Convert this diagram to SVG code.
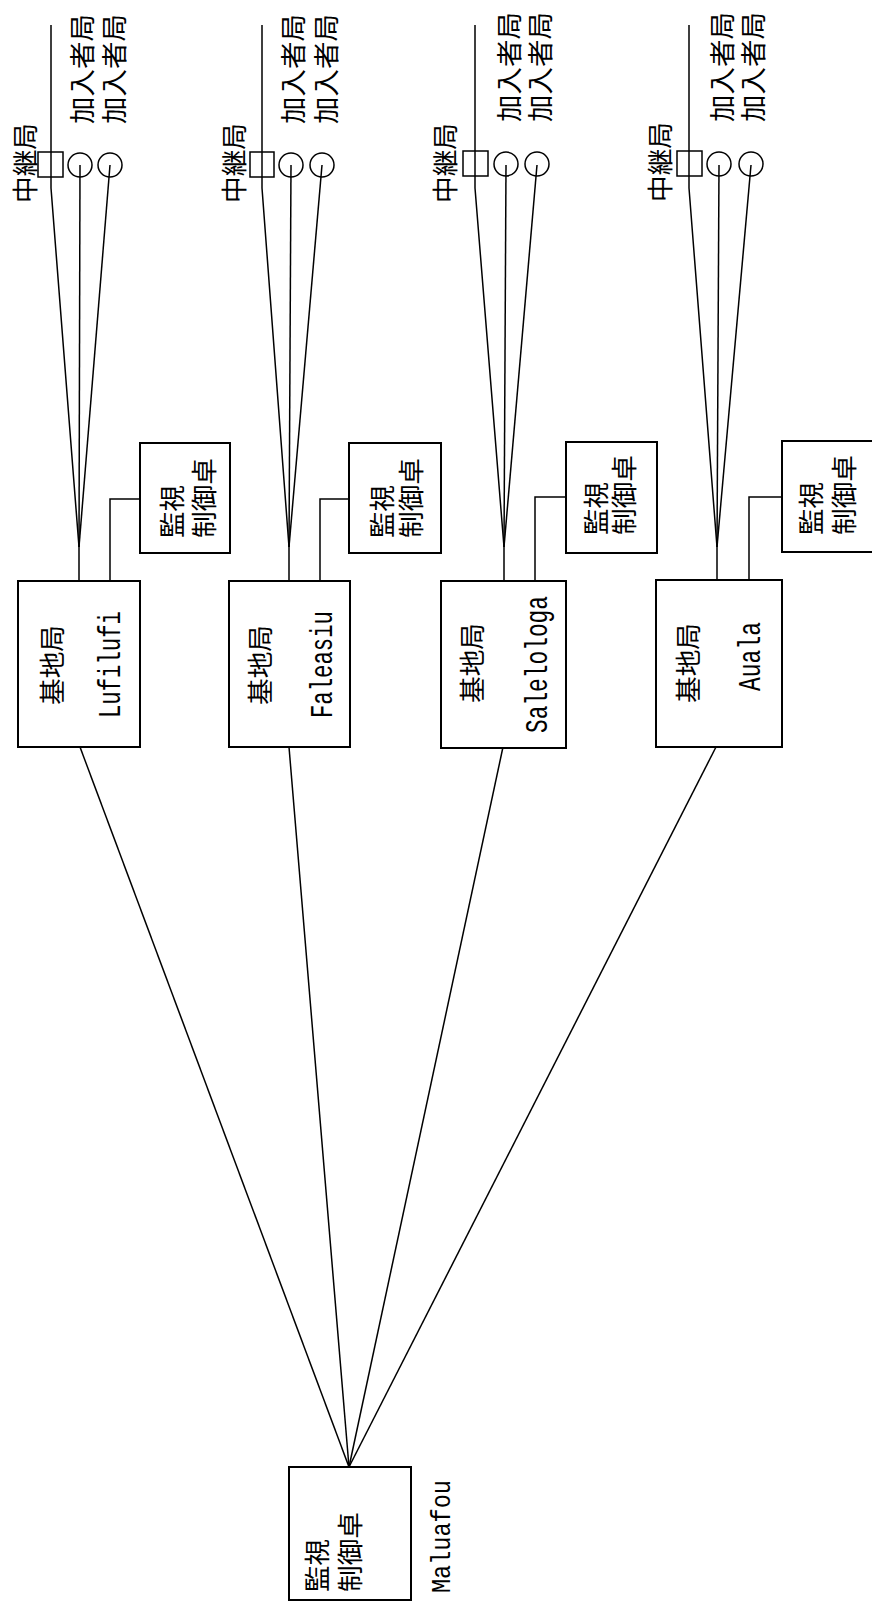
<svg xmlns="http://www.w3.org/2000/svg" width="872" height="1608" viewBox="0 0 872 1608">
<style>
.bg{fill:#ffffff}
.box{fill:#ffffff;stroke:#000;stroke-width:2}
.sym{fill:none;stroke:#000;stroke-width:1.5}
.ln{fill:none;stroke:#000;stroke-width:1.5}
.cjk{font-family:"Noto Sans CJK JP","Noto Sans CJK SC",sans-serif;font-size:26px;fill:#000;dominant-baseline:central}
.mono{font-family:"Liberation Mono",monospace;font-size:32px;fill:#000}
.mono2{font-family:"Liberation Mono",monospace;font-size:28px;fill:#000}
</style>
<rect class="bg" x="0" y="0" width="872" height="1608"/>

<g id="connectors">
  <polyline class="ln" points="51,25 51,188 79,547 79,581"/>
  <polyline class="ln" points="80,165 79,547"/>
  <polyline class="ln" points="110,165 79,547"/>
  <polyline class="ln" points="110,581 110,499 140,499"/>
  <line class="ln" x1="80" y1="747" x2="349" y2="1467"/>
  <polyline class="ln" points="262,25 262,188 289,547 289,581"/>
  <polyline class="ln" points="291,165 289,547"/>
  <polyline class="ln" points="322,165 289,547"/>
  <polyline class="ln" points="320,581 320,499 349,499"/>
  <line class="ln" x1="289" y1="747" x2="349" y2="1467"/>
  <polyline class="ln" points="475,25 475,188 504,547 504,581"/>
  <polyline class="ln" points="506,165 504,547"/>
  <polyline class="ln" points="537,165 504,547"/>
  <polyline class="ln" points="535,581 535,497 566,497"/>
  <line class="ln" x1="503" y1="747" x2="349" y2="1467"/>
  <polyline class="ln" points="689,25 689,188 717,547 717,581"/>
  <polyline class="ln" points="719,165 717,547"/>
  <polyline class="ln" points="751,165 717,547"/>
  <polyline class="ln" points="749,581 749,497 782,497"/>
  <line class="ln" x1="716" y1="747" x2="349" y2="1467"/>
</g>

<g id="relay1">
  <rect class="sym" x="38" y="152" width="25" height="25"/>
  <text class="cjk" transform="translate(23,203) rotate(-90)" textLength="80" lengthAdjust="spacingAndGlyphs">中継局</text>
</g>
<g id="sub1a">
  <circle class="sym" cx="80" cy="165" r="12"/>
  <text class="cjk" transform="translate(80,124) rotate(-90)" textLength="110" lengthAdjust="spacingAndGlyphs">加入者局</text>
</g>
<g id="sub1b">
  <circle class="sym" cx="110" cy="165" r="12"/>
  <text class="cjk" transform="translate(112,124) rotate(-90)" textLength="110" lengthAdjust="spacingAndGlyphs">加入者局</text>
</g>
<g id="base1">
  <rect class="box" x="18" y="581" width="122" height="166"/>
  <text class="cjk" transform="translate(50,705) rotate(-90)" textLength="80" lengthAdjust="spacingAndGlyphs">基地局</text>
  <text class="mono" transform="translate(120,718) rotate(-90)" textLength="107" lengthAdjust="spacingAndGlyphs">Lufilufi</text>
</g>
<g id="console1">
  <rect class="box" x="140" y="443" width="90" height="110"/>
  <text class="cjk" transform="translate(170,538) rotate(-90)" textLength="53" lengthAdjust="spacingAndGlyphs">監視</text>
  <text class="cjk" transform="translate(202,538) rotate(-90)" textLength="80" lengthAdjust="spacingAndGlyphs">制御卓</text>
</g>

<g id="relay2">
  <rect class="sym" x="250" y="152" width="24" height="25"/>
  <text class="cjk" transform="translate(232,203) rotate(-90)" textLength="80" lengthAdjust="spacingAndGlyphs">中継局</text>
</g>
<g id="sub2a">
  <circle class="sym" cx="291" cy="165" r="12"/>
  <text class="cjk" transform="translate(291,124) rotate(-90)" textLength="110" lengthAdjust="spacingAndGlyphs">加入者局</text>
</g>
<g id="sub2b">
  <circle class="sym" cx="322" cy="165" r="12"/>
  <text class="cjk" transform="translate(324,124) rotate(-90)" textLength="110" lengthAdjust="spacingAndGlyphs">加入者局</text>
</g>
<g id="base2">
  <rect class="box" x="229" y="581" width="121" height="166"/>
  <text class="cjk" transform="translate(258,705) rotate(-90)" textLength="80" lengthAdjust="spacingAndGlyphs">基地局</text>
  <text class="mono" transform="translate(332,718) rotate(-90)" textLength="107" lengthAdjust="spacingAndGlyphs">Faleasiu</text>
</g>
<g id="console2">
  <rect class="box" x="349" y="443" width="92" height="110"/>
  <text class="cjk" transform="translate(380,538) rotate(-90)" textLength="53" lengthAdjust="spacingAndGlyphs">監視</text>
  <text class="cjk" transform="translate(409,538) rotate(-90)" textLength="80" lengthAdjust="spacingAndGlyphs">制御卓</text>
</g>

<g id="relay3">
  <rect class="sym" x="463" y="151" width="25" height="25"/>
  <text class="cjk" transform="translate(443,203) rotate(-90)" textLength="80" lengthAdjust="spacingAndGlyphs">中継局</text>
</g>
<g id="sub3a">
  <circle class="sym" cx="506" cy="164" r="12"/>
  <text class="cjk" transform="translate(507,122) rotate(-90)" textLength="110" lengthAdjust="spacingAndGlyphs">加入者局</text>
</g>
<g id="sub3b">
  <circle class="sym" cx="537" cy="164" r="12"/>
  <text class="cjk" transform="translate(538,122) rotate(-90)" textLength="110" lengthAdjust="spacingAndGlyphs">加入者局</text>
</g>
<g id="base3">
  <rect class="box" x="441" y="581" width="125" height="167"/>
  <text class="cjk" transform="translate(470,703) rotate(-90)" textLength="80" lengthAdjust="spacingAndGlyphs">基地局</text>
  <text class="mono" transform="translate(547,733) rotate(-90)" textLength="137" lengthAdjust="spacingAndGlyphs">Salelologa</text>
</g>
<g id="console3">
  <rect class="box" x="566" y="442" width="91" height="111"/>
  <text class="cjk" transform="translate(594,535) rotate(-90)" textLength="53" lengthAdjust="spacingAndGlyphs">監視</text>
  <text class="cjk" transform="translate(622,535) rotate(-90)" textLength="80" lengthAdjust="spacingAndGlyphs">制御卓</text>
</g>

<g id="relay4">
  <rect class="sym" x="677" y="151" width="25" height="25"/>
  <text class="cjk" transform="translate(658,202) rotate(-90)" textLength="80" lengthAdjust="spacingAndGlyphs">中継局</text>
</g>
<g id="sub4a">
  <circle class="sym" cx="719" cy="164" r="12"/>
  <text class="cjk" transform="translate(720,122) rotate(-90)" textLength="110" lengthAdjust="spacingAndGlyphs">加入者局</text>
</g>
<g id="sub4b">
  <circle class="sym" cx="751" cy="164" r="12"/>
  <text class="cjk" transform="translate(751,122) rotate(-90)" textLength="110" lengthAdjust="spacingAndGlyphs">加入者局</text>
</g>
<g id="base4">
  <rect class="box" x="656" y="580" width="126" height="167"/>
  <text class="cjk" transform="translate(686,703) rotate(-90)" textLength="80" lengthAdjust="spacingAndGlyphs">基地局</text>
  <text class="mono" transform="translate(760,691) rotate(-90)" textLength="69" lengthAdjust="spacingAndGlyphs">Auala</text>
</g>
<g id="console4">
  <rect class="box" x="782" y="441" width="96" height="111"/>
  <text class="cjk" transform="translate(809,535) rotate(-90)" textLength="53" lengthAdjust="spacingAndGlyphs">監視</text>
  <text class="cjk" transform="translate(842,535) rotate(-90)" textLength="80" lengthAdjust="spacingAndGlyphs">制御卓</text>
</g>

<g id="central">
  <rect class="box" x="289" y="1467" width="122" height="133"/>
  <text class="cjk" transform="translate(315,1592) rotate(-90)" textLength="53" lengthAdjust="spacingAndGlyphs">監視</text>
  <text class="cjk" transform="translate(348,1592) rotate(-90)" textLength="80" lengthAdjust="spacingAndGlyphs">制御卓</text>
  <text class="mono2" transform="translate(450,1593) rotate(-90)" textLength="113" lengthAdjust="spacingAndGlyphs">Maluafou</text>
</g>
</svg>
